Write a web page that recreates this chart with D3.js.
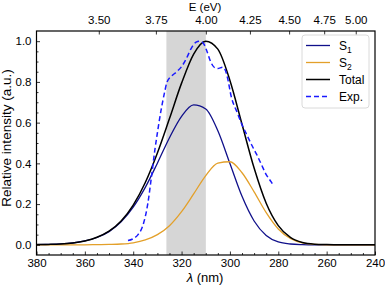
<!DOCTYPE html>
<html>
<head>
<meta charset="utf-8">
<script src="https://cdn.jsdelivr.net/npm/d3@7"></script>
<style>
  body { margin: 0; background: #fff; }
  svg { display: block; font-family: "Liberation Sans", Arial, sans-serif; }
</style>
</head>
<body>
<div id="chart"></div>
<script>
// wavelength grid (nm) for the computed spectra
const lambda = [380, 375, 370, 365, 360, 355, 350, 345, 340, 335, 330, 325, 320, 315, 310,
  305, 300, 295, 290, 285, 280, 275, 270, 265, 260, 255, 250, 245, 240];
const s1 = [0.001, 0.002, 0.004, 0.009, 0.019, 0.036, 0.065, 0.113, 0.185, 0.282, 0.401, 0.526, 0.631, 0.687, 0.667,
  0.560, 0.399, 0.238, 0.117, 0.046, 0.014, 0.004, 0.001, 0, 0, 0, 0, 0, 0];
const s2 = [0, 0, 0, 0, 0, 0.001, 0.002, 0.004, 0.010, 0.024, 0.050, 0.094, 0.163, 0.250, 0.340,
  0.401, 0.408, 0.354, 0.260, 0.158, 0.078, 0.031, 0.009, 0.002, 0, 0, 0, 0, 0];
const total = [0.001, 0.002, 0.004, 0.009, 0.019, 0.037, 0.067, 0.117, 0.195, 0.306, 0.451, 0.620, 0.794, 0.937, 1.0,
  0.961, 0.807, 0.592, 0.377, 0.204, 0.094, 0.036, 0.011, 0.003, 0.001, 0, 0, 0, 0];

// experimental spectrum
const expLambda = [342.5, 340, 338, 336, 334, 332.5, 331, 330, 328.5, 327, 326, 324, 322, 320, 318, 316, 314,
  312.5, 311, 309.7, 308, 306.5, 305, 303, 302, 301, 299.5, 297, 295, 293, 291, 289, 287, 285, 283, 282.5];
const expVal = [0.02, 0.03, 0.05, 0.095, 0.20, 0.33, 0.47, 0.55, 0.66, 0.75, 0.80, 0.83, 0.85, 0.875, 0.915, 0.965, 0.995,
  1.0, 0.99, 0.957, 0.90, 0.872, 0.866, 0.872, 0.86, 0.82, 0.73, 0.65, 0.59, 0.54, 0.49, 0.445, 0.395, 0.345, 0.31, 0.30];

const shade = [3.8, 4.0]; // eV
const xTicks = [380, 360, 340, 320, 300, 280, 260, 240];
const yTicks = [0, 0.2, 0.4, 0.6, 0.8, 1.0];
const eTicks = [3.5, 3.75, 4.0, 4.25, 4.5, 4.75, 5.0];
const hc = 1239.84;

const width = 385, height = 287;
const margin = { top: 31, right: 10, bottom: 32, left: 36.5 };

const svg = d3.select("#chart").append("svg").attr("width", width).attr("height", height);

const x = d3.scaleLinear().domain([380, 240]).range([margin.left, width - margin.right]);
const y = d3.scaleLinear().domain([-0.05, 1.05]).range([height - margin.bottom, margin.top]);

const plot = svg.append("g");
svg.append("clipPath").attr("id", "clip").append("rect")
  .attr("x", x.range()[0]).attr("y", margin.top)
  .attr("width", x.range()[1] - x.range()[0]).attr("height", y.range()[0] - margin.top);
plot.attr("clip-path", "url(#clip)");

// shaded region between 3.8 and 4.0 eV
plot.append("rect")
  .attr("x", x(hc / shade[0]))
  .attr("width", x(hc / shade[1]) - x(hc / shade[0]))
  .attr("y", margin.top)
  .attr("height", y.range()[0] - margin.top)
  .attr("fill", "#d6d6d6");

const line = d3.line().x((d) => x(d[0])).y((d) => y(d[1])).curve(d3.curveMonotoneX);
const zip = (a, b) => a.map((v, i) => [v, b[i]]);

const series = [
  { name: "S1", data: zip(lambda, s1), color: "#10108a", w: 1.3, dash: null },
  { name: "S2", data: zip(lambda, s2), color: "#e3a02a", w: 1.3, dash: null },
  { name: "Total", data: zip(lambda, total), color: "#000", w: 1.5, dash: null },
  { name: "Exp.", data: zip(expLambda, expVal), color: "#1a1aff", w: 1.5, dash: "5,3" }
];

series.forEach((s) => {
  plot.append("path")
    .attr("d", line(s.data.slice().sort((a, b) => a[0] - b[0])))
    .attr("fill", "none")
    .attr("stroke", s.color)
    .attr("stroke-width", s.w)
    .attr("stroke-dasharray", s.dash);
});

// axes (ticks inward)
svg.append("g").attr("transform", `translate(0,${y.range()[0]})`)
  .call(d3.axisBottom(x).tickValues(xTicks).tickSize(-3.5).tickPadding(4).tickFormat(d3.format("d")));
svg.append("g").attr("transform", `translate(0,${y.range()[0]})`)
  .call(d3.axisBottom(x).tickValues(d3.range(375, 240, -5).filter((v) => v % 20 !== 0)).tickSize(-2).tickFormat(""));

svg.append("g").attr("transform", `translate(${x.range()[0]},0)`)
  .call(d3.axisLeft(y).tickValues(yTicks).tickSize(-3.5).tickPadding(5).tickFormat(d3.format(".1f")));
svg.append("g").attr("transform", `translate(${x.range()[0]},0)`)
  .call(d3.axisLeft(y).tickValues(d3.range(0.05, 1.05, 0.05).filter((v, i) => i % 4 !== 3)).tickSize(-2).tickFormat(""));

svg.append("g").attr("transform", `translate(0,${margin.top})`)
  .call(d3.axisTop(x).tickValues(eTicks.map((e) => hc / e)).tickSize(-3.5).tickPadding(7)
    .tickFormat((d) => (hc / d).toFixed(2)));

svg.selectAll(".domain").remove();
svg.selectAll(".tick line").attr("stroke", "#000").attr("stroke-width", 0.8);
svg.selectAll(".tick text").attr("font-size", 11.5).attr("fill", "#000")
  .attr("font-family", "'Liberation Sans', Arial, sans-serif");

// frame
svg.append("rect")
  .attr("x", x.range()[0]).attr("y", margin.top)
  .attr("width", x.range()[1] - x.range()[0]).attr("height", y.range()[0] - margin.top)
  .attr("fill", "none").attr("stroke", "#000").attr("stroke-width", 1.2);

// labels
const bl = svg.append("text").attr("x", 205).attr("y", 282).attr("text-anchor", "middle").attr("font-size", 13);
bl.append("tspan").attr("font-style", "italic").text("λ");
bl.append("tspan").text(" (nm)");

svg.append("text").attr("x", 205).attr("y", 10.5).attr("text-anchor", "middle").attr("font-size", 11.5).text("E (eV)");

svg.append("text").attr("transform", "translate(11,138) rotate(-90)")
  .attr("text-anchor", "middle").attr("font-size", 13.5).text("Relative intensity (a.u.)");

// legend
const lg = svg.append("g").attr("transform", "translate(302,35)");
lg.append("rect").attr("width", 67).attr("height", 73).attr("rx", 3)
  .attr("fill", "#fff").attr("fill-opacity", 0.85).attr("stroke", "#d0d0d0").attr("stroke-width", 0.8);
series.forEach((s, i) => {
  const yy = 10.5 + i * 17;
  lg.append("line").attr("x1", 4).attr("x2", 28).attr("y1", yy).attr("y2", yy)
    .attr("stroke", s.color).attr("stroke-width", s.w).attr("stroke-dasharray", s.dash);
  const t = lg.append("text").attr("x", 37).attr("y", yy + 4).attr("font-size", 12);
  if (s.name[0] === "S") {
    t.append("tspan").text("S");
    t.append("tspan").attr("font-size", 8.5).attr("dy", 3).text(s.name.slice(1));
  } else {
    t.text(s.name);
  }
});
</script>
</body>
</html>
